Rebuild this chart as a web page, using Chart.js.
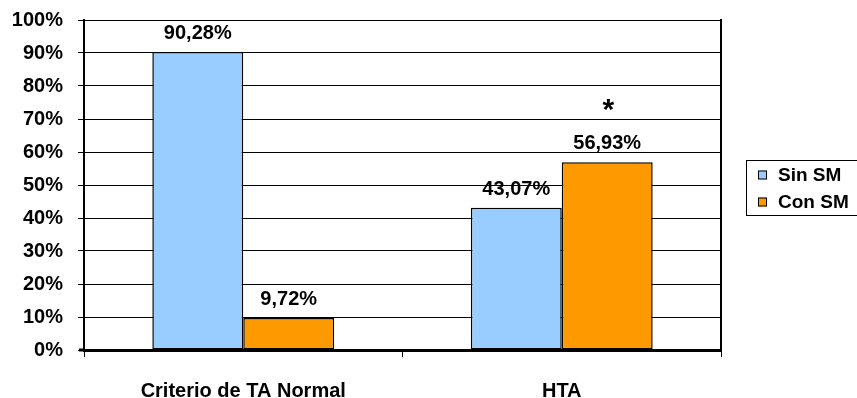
<!DOCTYPE html>
<html>
<head>
<meta charset="utf-8">
<script src="https://cdn.jsdelivr.net/npm/chart.js@4/dist/chart.umd.min.js"></script>
<style>
  html, body { margin: 0; padding: 0; background: #ffffff; }
  #wrap { width: 857px; height: 398px; }
</style>
</head>
<body>
<div id="wrap"><canvas id="c" width="857" height="398"></canvas></div>
<script>
// Categories and series (percentages)
const categories = ['Criterio de TA Normal', 'HTA'];
const seriesNames = ['Sin SM', 'Con SM'];
const sinSM = [90.28, 43.07];
const conSM = [9.72, 56.93];
// Significance marker: series index, category index, symbol
const significance = [{ series: 1, index: 1, symbol: '*' }];

const FONT = "'Liberation Sans', Arial, sans-serif";
const colors = ['#99CCFF', '#FF9900'];

const fmt = v => v.toFixed(2).replace('.', ',') + '%';

// Value labels above each bar plus significance symbols
const valueLabels = {
  id: 'valueLabels',
  afterDatasetsDraw(chart) {
    const ctx = chart.ctx;
    ctx.save();
    ctx.fillStyle = '#000';
    ctx.textAlign = 'center';
    ctx.textBaseline = 'alphabetic';
    chart.data.datasets.forEach((ds, di) => {
      const meta = chart.getDatasetMeta(di);
      meta.data.forEach((bar, i) => {
        ctx.font = 'bold 20px ' + FONT;
        ctx.fillText(fmt(ds.data[i]), bar.x, bar.y - 13);
      });
    });
    significance.forEach(s => {
      const bar = chart.getDatasetMeta(s.series).data[s.index];
      ctx.font = 'bold 30px ' + FONT;
      ctx.fillText(s.symbol, bar.x + 1, bar.y - 43);
    });
    ctx.restore();
  }
};

// Frame: right border of the plot area and a boxed legend
const frameAndLegend = {
  id: 'frameAndLegend',
  afterDraw(chart) {
    const ctx = chart.ctx;
    const a = chart.chartArea;
    ctx.save();
    ctx.strokeStyle = '#000';
    ctx.lineWidth = 2;
    ctx.beginPath();
    ctx.moveTo(a.right, a.top - 1);
    ctx.lineTo(a.right, a.bottom + 1);
    ctx.stroke();

    // baseline continues slightly past the value axis
    ctx.lineWidth = 3;
    ctx.beginPath();
    ctx.moveTo(a.left - 5, a.bottom);
    ctx.lineTo(a.left, a.bottom);
    ctx.stroke();

    const bx = a.right + 25, by = 160, bw = 130, bh = 55;
    ctx.lineWidth = 1;
    ctx.strokeStyle = '#000';
    ctx.strokeRect(bx + 0.5, by + 0.5, bw, bh);

    ctx.font = 'bold 19px ' + FONT;
    ctx.textAlign = 'left';
    ctx.textBaseline = 'middle';
    chart.data.datasets.forEach((ds, i) => {
      const cy = by + 15 + i * 27;
      ctx.fillStyle = ds.backgroundColor;
      ctx.fillRect(bx + 12, cy - 4.5, 9, 9);
      ctx.strokeStyle = '#000';
      ctx.strokeRect(bx + 12.5, cy - 4, 8, 8);
      ctx.fillStyle = '#000';
      ctx.fillText(ds.label, bx + 32, cy + 1);
    });
    ctx.restore();
  }
};

new Chart(document.getElementById('c'), {
  type: 'bar',
  data: {
    labels: categories,
    datasets: [
      { label: seriesNames[0], data: sinSM, backgroundColor: colors[0],
        borderColor: '#000', borderWidth: 1.5, borderSkipped: false },
      { label: seriesNames[1], data: conSM, backgroundColor: colors[1],
        borderColor: '#000', borderWidth: 1.5, borderSkipped: false }
    ]
  },
  options: {
    responsive: false,
    animation: false,
    layout: { padding: { top: 20, right: 136, left: 0, bottom: 0 } },
    datasets: {
      bar: {
        barPercentage: 1,
        categoryPercentage: 0.571
      }
    },
    plugins: {
      legend: { display: false },
      tooltip: { enabled: false }
    },
    scales: {
      x: {
        afterFit(scale) {
          scale.height = 48;
          scale.paddingLeft = 0;
          scale.paddingRight = 0;
        },
        grid: {
          drawOnChartArea: false,
          drawTicks: true,
          tickLength: 7,
          color: '#000',
          lineWidth: 1
        },
        border: { display: true, color: '#000', width: 3 },
        ticks: {
          color: '#000',
          padding: 22,
          font: { family: FONT, size: 20, weight: 'bold' },
          maxRotation: 0
        }
      },
      y: {
        min: 0,
        max: 100,
        afterFit(scale) {
          scale.width = 84;
          scale.paddingTop = 0;
          scale.paddingBottom = 0;
        },
        grid: {
          color: '#000',
          lineWidth: 1,
          tickLength: 6
        },
        border: { display: true, color: '#000', width: 2 },
        ticks: {
          stepSize: 10,
          color: '#000',
          padding: 15,
          font: { family: FONT, size: 20, weight: 'bold' },
          callback: v => v + '%'
        }
      }
    }
  },
  plugins: [valueLabels, frameAndLegend]
});
</script>
</body>
</html>
